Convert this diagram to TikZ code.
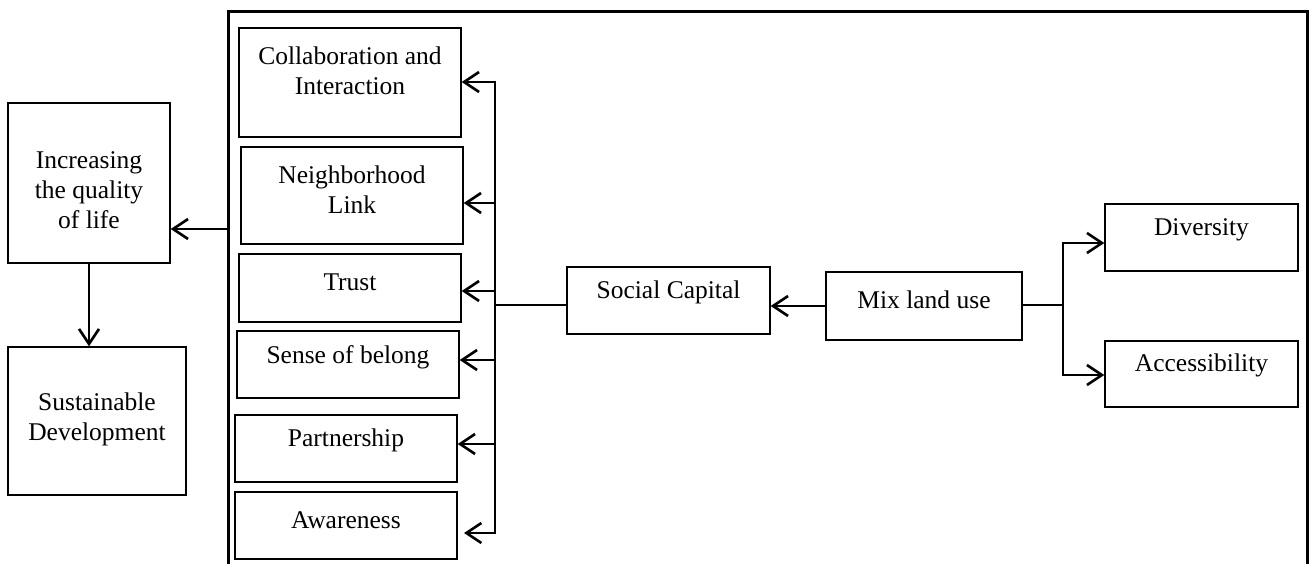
\documentclass[tikz,border=0pt]{standalone}
\usepackage{fontspec}
\setmainfont{Liberation Serif}
\usetikzlibrary{arrows.meta}
\begin{document}
\begin{tikzpicture}[x=1pt,y=-1pt,
  box/.style={draw, line width=1.4pt, inner sep=0pt},
  txt/.style={font=\fontsize{25.5}{30}\selectfont, align=center, inner sep=0pt},
  conn/.style={line width=2.6pt, line cap=rect},
  thin/.style={line width=1.2pt},
  arr/.style={line width=2.6pt, -{Straight Barb[length=15pt,width=20pt]}},
  frame/.style={line width=3pt}]
\useasboundingbox (0,0) rectangle (1309,564);

% outer frame
\coordinate (fbl) at (228,564);
\coordinate (ftl) at (228,12);
\coordinate (ftr) at (1307.5,12);
\coordinate (fbr) at (1307.5,564);
\draw[frame] (fbl) -- (ftl) -- (ftr) -- (fbr);

% left column
\node[box, minimum width=162pt, minimum height=160pt,
  label={[txt,yshift=-7pt]center:{Increasing\\the quality\\of life}}] (inc) at (89,183) {};
\node[box, minimum width=178pt, minimum height=148pt,
  label={[txt,yshift=2pt]center:{Sustainable\\Development}}] (sus) at (97,421) {};

% middle column
\node[box, minimum width=222pt, minimum height=109pt,
  label={[txt,yshift=12pt]center:{Collaboration and\\Interaction}}] (col) at (350,82.5) {};
\node[box, minimum width=222pt, minimum height=97pt,
  label={[txt,yshift=6pt]center:{Neighborhood\\Link}}] (nei) at (352,195.5) {};
\node[box, minimum width=222pt, minimum height=68pt,
  label={[txt,yshift=6pt]center:Trust}] (tru) at (350,288) {};
\node[box, minimum width=222pt, minimum height=67pt,
  label={[txt,yshift=7pt]center:Sense of belong}] (sen) at (348,364.5) {};
\node[box, minimum width=222pt, minimum height=67pt,
  label={[txt,yshift=8pt]center:Partnership}] (par) at (346,448.5) {};
\node[box, minimum width=222pt, minimum height=67pt,
  label={[txt,yshift=5.5pt]center:Awareness}] (awa) at (346,525.5) {};

% right part
\node[box, minimum width=203pt, minimum height=67pt,
  label={[txt,yshift=8pt]center:Social Capital}] (soc) at (668.5,300.5) {};
\node[box, minimum width=196pt, minimum height=68pt,
  label={[txt,yshift=6pt]center:Mix land use}] (mix) at (924,306) {};
\node[box, minimum width=193pt, minimum height=67pt,
  label={[txt,yshift=8pt]center:Diversity}] (div) at (1201.5,237.5) {};
\node[box, minimum width=193pt, minimum height=66pt,
  label={[txt,yshift=9pt]center:Accessibility}] (acc) at (1201.5,374) {};

% frame to increasing
\coordinate (fl) at (228,229);
\draw[arr] (fl) -- (fl -| inc.east);
\draw[arr] (inc.south) -- (inc.south |- sus.north);

% bus
\coordinate (b1) at (495,82);
\coordinate (b2) at (495,203);
\coordinate (b3) at (495,291);
\coordinate (b4) at (495,360);
\coordinate (b5) at (495,444);
\coordinate (b6) at (495,533);
\coordinate (bs) at (495,305);
\coordinate (a6) at (464,533);
\draw[conn] (b1) -- (b6);
\draw[arr] (b1) -- (b1 -| col.east);
\draw[arr] (b2) -- (b2 -| nei.east);
\draw[arr] (b3) -- (b3 -| tru.east);
\draw[arr] (b4) -- (b4 -| sen.east);
\draw[arr] (b5) -- (b5 -| par.east);
\draw[arr] (b6) -- (a6);
\draw[thin] (bs) -- (bs -| soc.west);

% mix land use
\draw[arr] (mix.west) -- (mix.west -| soc.east);
\coordinate (j) at (1063,305);
\coordinate (jd) at (1063,243);
\coordinate (ja) at (1063,375);
\draw[conn] (mix.east |- j) -- (j);
\draw[conn] (jd) -- (ja);
\draw[arr] (jd) -- (jd -| div.west);
\draw[arr] (ja) -- (ja -| acc.west);
\end{tikzpicture}
\end{document}
